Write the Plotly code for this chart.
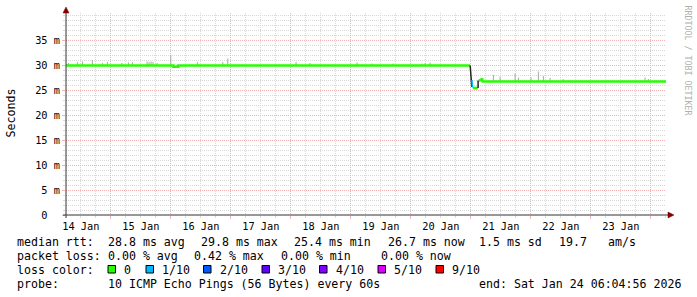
import plotly.graph_objects as go

# ---------------- data ----------------
t_start = "2026-01-14 06:04:56"
t_end = "2026-01-24 06:04:56"

# median rtt (ms), green = 0 loss; None breaks the line
med_t = [t_start, "2026-01-16 01:00", "2026-01-16 01:00", "2026-01-16 03:00", "2026-01-16 03:00",
         "2026-01-20 23:45", None,
         "2026-01-21 00:48", "2026-01-21 02:48", None,
         "2026-01-21 03:12", "2026-01-21 04:05", "2026-01-21 04:31", "2026-01-21 04:48", t_end]
med_v = [29.9, 29.9, 29.65, 29.65, 29.9,
         29.9, None,
         25.4, 25.4, None,
         26.9, 27.0, 27.3, 26.7, 26.7]

# transition (dark) and 1/10 loss (blue) pieces of the median
trans_t = ["2026-01-20 23:45", "2026-01-21 00:24", None, "2026-01-21 02:55", "2026-01-21 02:55"]
trans_v = [29.9, 25.6, None, 25.4, 26.9]
loss1_t = ["2026-01-21 00:28", "2026-01-21 00:40"]
loss1_v = [27.0, 25.5]

# smoke spikes: time, base (median), top
smoke_t = ["2026-01-14 07:02", "2026-01-14 10:38", "2026-01-14 12:38", "2026-01-14 16:38",
           "2026-01-14 20:38", "2026-01-14 22:38", "2026-01-15 04:24", "2026-01-15 07:02",
           "2026-01-15 08:38", "2026-01-15 14:31", "2026-01-15 15:19", "2026-01-15 16:07",
           "2026-01-15 16:55", "2026-01-15 18:31", "2026-01-16 00:00", "2026-01-16 10:38",
           "2026-01-16 20:48", "2026-01-16 22:48", "2026-01-18 02:07", "2026-01-18 07:43",
           "2026-01-19 02:31", "2026-01-19 08:31", "2026-01-19 16:55", "2026-01-20 04:24",
           "2026-01-20 05:43", "2026-01-20 07:43",
           "2026-01-21 09:02", "2026-01-21 11:43", "2026-01-21 17:43", "2026-01-21 19:02",
           "2026-01-22 00:07", "2026-01-22 03:02", "2026-01-22 05:02", "2026-01-22 07:43",
           "2026-01-22 12:55", "2026-01-23 21:43", "2026-01-23 23:02"]
smoke_base = [29.9] * 26 + [26.7] * 11
smoke_top = [30.4, 30.6, 30.7, 31.0, 30.4, 30.6, 30.4, 30.5, 30.6, 30.7, 30.6, 30.7,
             30.6, 30.4, 32.0, 30.6, 30.6, 31.3, 30.6, 30.4, 30.5, 30.3, 30.3, 30.3,
             30.4, 30.5,
             28.0, 27.7, 28.3, 27.5, 27.5, 28.7, 27.8, 27.4, 27.2, 27.5, 27.2]

day_ticks = ["2026-01-%02d 12:00" % d for d in range(14, 24)]
day_labels = ["%d Jan" % d for d in range(14, 24)]
y_ticks = [0, 5, 10, 15, 20, 25, 30, 35]
y_labels = ["0\u00a0\u00a0"] + ["%d m" % v for v in y_ticks[1:]]

rtt_stats = ["28.8 ms avg", "29.8 ms max", "25.4 ms min", "26.7 ms now", "1.5 ms sd", "19.7", "am/s"]
loss_stats = ["0.00 % avg", "0.42 % max", "0.00 % min", "0.00 % now"]
loss_labels = ["0", "1/10", "2/10", "3/10", "4/10", "5/10", "9/10"]
loss_colors = ["#26ff00", "#00b8ff", "#0059ff", "#5e00ff", "#7e00ff", "#dd00ff", "#ff0000"]
probe_text = "10 ICMP Echo Pings (56 Bytes) every 60s"
end_text = "end: Sat Jan 24 06:04:56 2026"

# ---------------- layout geometry (pixels) ----------------
W, H = 697, 297
L, R, T, B = 66, 666, 13, 215
PW, PH = R - L, B - T


def px(x):
    return (x - L) / PW


def py(y):
    return (B - y) / PH


MONO = "DejaVu Sans Mono"
GRID = "#d8d8d8"
MGRID = "#f0b2b2"

fig = go.Figure()

# smoke
sx, sy = [], []
for t, b0, tp in zip(smoke_t, smoke_base, smoke_top):
    sx += [t, t, None]
    sy += [b0, tp, None]
fig.add_trace(go.Scatter(x=sx, y=sy, mode="lines", line=dict(color="#a8a8a8", width=1),
                         hoverinfo="skip", showlegend=False))
# median
fig.add_trace(go.Scatter(x=med_t, y=med_v, mode="lines", line=dict(color=loss_colors[0], width=2.7),
                         hoverinfo="skip", showlegend=False, connectgaps=False))
fig.add_trace(go.Scatter(x=trans_t, y=trans_v, mode="lines", line=dict(color="#222222", width=1.5),
                         hoverinfo="skip", showlegend=False, connectgaps=False))
fig.add_trace(go.Scatter(x=loss1_t, y=loss1_v, mode="lines", line=dict(color=loss_colors[1], width=1.5),
                         hoverinfo="skip", showlegend=False))
# dummy trace to carry label axis
fig.add_trace(go.Scatter(x=[t_start, t_end], y=[None, None], xaxis="x2", mode="lines",
                         hoverinfo="skip", showlegend=False))

fig.update_layout(
    width=W, height=H,
    margin=dict(l=L, r=W - R, t=T, b=H - B, pad=0),
    paper_bgcolor="white", plot_bgcolor="white",
    showlegend=False,
    xaxis=dict(type="date", range=[t_start, t_end], tickmode="linear",
               tick0="2026-01-14 00:00", dtick=86400000,
               showgrid=True, gridcolor=MGRID, griddash="1px,1px", gridwidth=1,
               showticklabels=False, ticks="outside", ticklen=3, tickcolor=MGRID,
               zeroline=False, showline=False,
               minor=dict(tickmode="linear", tick0="2026-01-14 00:00", dtick=21600000,
                          showgrid=True, gridcolor=GRID, griddash="1px,1px", gridwidth=1,
                          ticks="outside", ticklen=2, tickcolor=GRID)),
    xaxis2=dict(type="date", range=[t_start, t_end], overlaying="x", anchor="y", side="bottom",
                tickmode="array", tickvals=day_ticks, ticktext=day_labels,
                showgrid=False, zeroline=False, showline=False, ticks="outside", ticklen=2,
                tickcolor="rgba(0,0,0,0)",
                tickfont=dict(family=MONO, size=10.3, color="black")),
    yaxis=dict(range=[0, PH / 5.0], tickmode="array", tickvals=y_ticks, ticktext=y_labels,
               showgrid=True, gridcolor=MGRID, griddash="1px,1px", gridwidth=1,
               ticks="outside", ticklen=3, tickcolor=MGRID,
               zeroline=False, showline=False,
               tickfont=dict(family=MONO, size=10.3, color="black"),
               minor=dict(tickmode="linear", tick0=0, dtick=1, showgrid=True, gridcolor=GRID,
                          griddash="1px,1px", gridwidth=1, ticks="outside", ticklen=2,
                          tickcolor=GRID)),
)

shapes = []
# axis lines
shapes.append(dict(type="line", xref="paper", yref="paper", x0=px(63), x1=px(670), y0=0, y1=0,
                   line=dict(color="#333333", width=1), layer="above"))
shapes.append(dict(type="line", xref="paper", yref="paper", x0=0, x1=0, y0=py(218), y1=py(10),
                   line=dict(color="#333333", width=1), layer="above"))
# arrows
shapes.append(dict(type="path", xref="paper", yref="paper",
                   path="M %f %f L %f %f L %f %f Z" % (px(668), py(212), px(674), py(215), px(668), py(218)),
                   fillcolor="#7f0000", line=dict(color="#7f0000", width=0.5), layer="above"))
shapes.append(dict(type="path", xref="paper", yref="paper",
                   path="M %f %f L %f %f L %f %f Z" % (px(63), py(13), px(66), py(7), px(69), py(13)),
                   fillcolor="#7f0000", line=dict(color="#7f0000", width=0.5), layer="above"))

annotations = []


def txt(s, x, y, size=11.6, color="black", angle=0, xanchor="left"):
    annotations.append(dict(text=s, xref="paper", yref="paper", x=px(x), y=py(y),
                            xanchor=xanchor, yanchor="middle", showarrow=False, textangle=angle,
                            font=dict(family=MONO, size=size, color=color), borderpad=0))


# y title and watermark
txt("Seconds", 10.5, 113, angle=-90, xanchor="center")
txt("RRDTOOL / TOBI OETIKER", 687.5, 60, size=8.3, color="#b0b0b0", angle=90, xanchor="center")

# legend rows
row_y = [242.2, 255.7, 269.7, 283.7]
x0 = 16
txt("median rtt:", x0, row_y[0])
for s, x in zip(rtt_stats, [107, 200, 293, 386.5, 478, 558, 606.5]):
    txt(s, x, row_y[0])
txt("packet loss:", x0, row_y[1])
for s, x in zip(loss_stats, [107, 193, 280, 380]):
    txt(s, x, row_y[1])
txt("loss color:", x0, row_y[2])
box_x = [108, 146, 203.5, 262, 319.5, 378, 436]
for c, lab, bx in zip(loss_colors, loss_labels, box_x):
    shapes.append(dict(type="rect", xref="paper", yref="paper", x0=px(bx), x1=px(bx + 7.5),
                       y0=py(273), y1=py(265.5), fillcolor=c, line=dict(color="black", width=1)))
    txt(lab, bx + 15, row_y[2])
txt("probe:", x0, row_y[3])
txt(probe_text, 107, row_y[3])
txt(end_text, 478, row_y[3])

fig.update_layout(shapes=shapes, annotations=annotations)
fig.write_html("out.html")
